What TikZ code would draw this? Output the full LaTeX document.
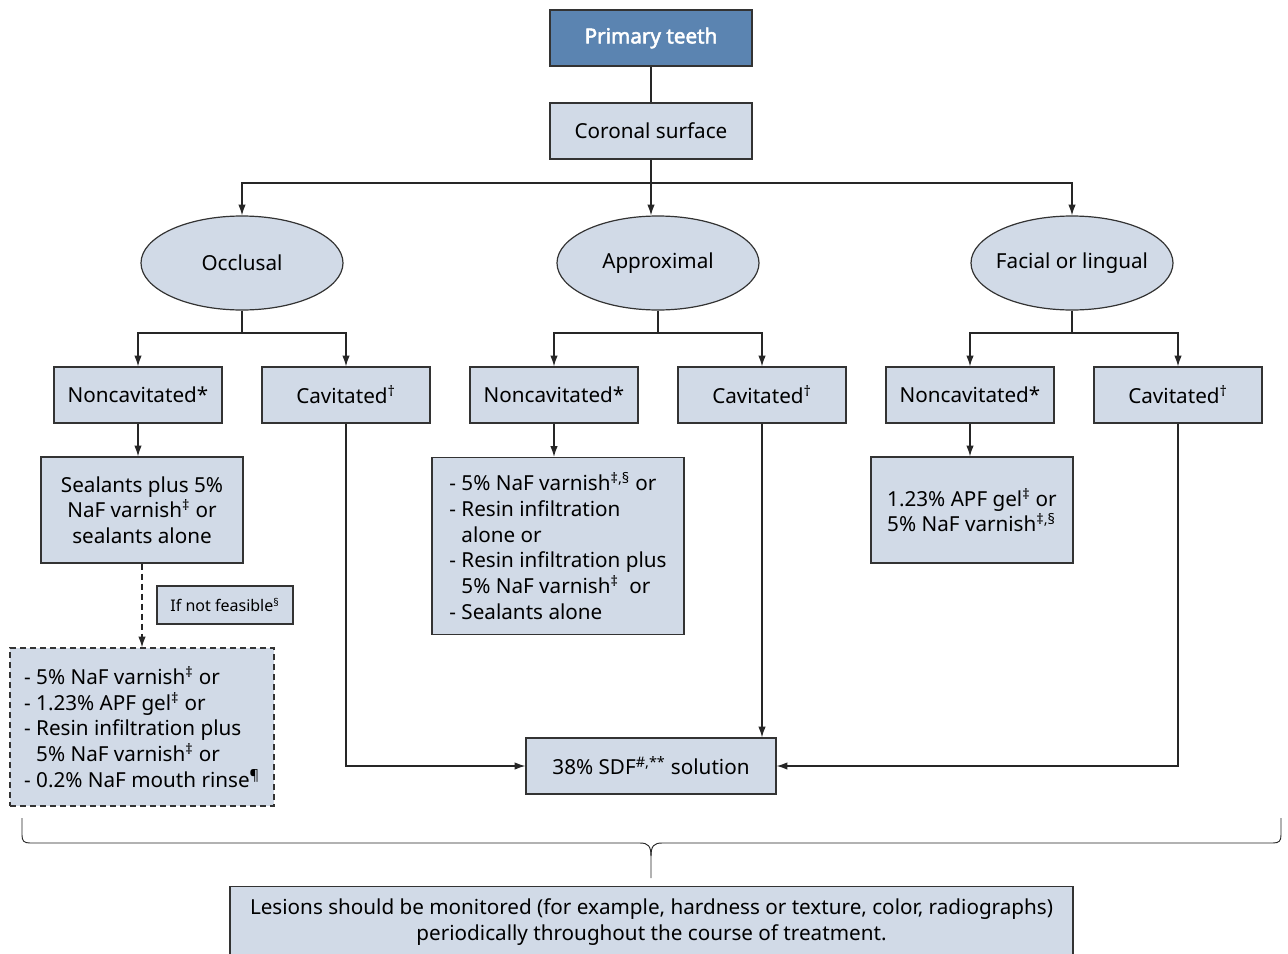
\documentclass[tikz,border=0pt]{standalone}
\usepackage{fontspec}
\setmainfont{Noto Sans}
\newfontfamily\titlefont{Noto Sans}[FakeBold=2.5]
\usetikzlibrary{shapes.geometric,arrows.meta}
\definecolor{darkfill}{HTML}{5B84B1}
\definecolor{lightfill}{HTML}{D1DAE7}
\definecolor{edge}{HTML}{333333}
\tikzset{
  box/.style={draw=edge,fill=lightfill,line width=0.9pt,inner sep=0pt,font=\fontsize{15.5}{19.3}\selectfont,align=center},
  oval/.style={draw=edge,fill=lightfill,line width=0.9pt,ellipse,inner xsep=-12pt,inner ysep=0pt,minimum width=151.5pt,minimum height=70.5pt,font=\fontsize{15.5}{19.3}\selectfont},
  conn/.style={line width=0.9pt,draw=black!85},
  arr/.style={conn,-{Latex[length=8pt,width=5.5pt]}},
  dsh/.style={dash pattern=on 4.5pt off 3pt},
}
\begin{document}
\begin{tikzpicture}[x=0.75pt,y=-0.75pt]
\useasboundingbox (0,0) rectangle (1288,953);
\clip (0,0) rectangle (1288,953);
% top
\node[box,fill=darkfill,text=white,font=\fontsize{15.5}{19.3}\titlefont,minimum width=151.5pt,minimum height=42pt] (prim) at (651,38) {Primary teeth};
\node[box,minimum width=151.5pt,minimum height=42pt] (cor) at (651,131) {Coronal surface};
\node[oval] (occ) at (242,263) {Occlusal};
\node[oval] (appr) at (658,263) {Approximal};
\node[oval] (fac) at (1072,263) {Facial or lingual};
\foreach \n/\x in {nca/138,ncb/554,ncc/970}{
  \node[box,minimum width=126pt,minimum height=42pt] (\n) at (\x,395) {Noncavitated*};}
\foreach \n/\x in {ca/346,cb/762,cc/1178}{
  \node[box,minimum width=126pt,minimum height=42pt] (\n) at (\x,395) {Cavitated\textsuperscript{†}};}
\node[box,minimum width=151.5pt,minimum height=79.5pt] (seal) at (142,510) {Sealants plus 5\%\\NaF varnish\textsuperscript{‡} or\\sealants alone};
\node[box,minimum width=102pt,minimum height=28.5pt,font=\fontsize{12}{14}\selectfont] (ifnot) at (225,605) {If not feasible\textsuperscript{§}};
\node[box,dsh,minimum width=198pt,minimum height=118.5pt,align=left] (alt) at (142,727) {- 5\% NaF varnish\textsuperscript{‡} or\\- 1.23\% APF gel\textsuperscript{‡} or\\- Resin infiltration plus\\\hphantom{- }5\% NaF varnish\textsuperscript{‡} or\\- 0.2\% NaF mouth rinse\textsuperscript{¶}};
\node[box,minimum width=189pt,minimum height=132.75pt,align=left] (mid) at (558,546) {- 5\% NaF varnish\textsuperscript{‡,§} or\\- Resin infiltration\\\hphantom{- }alone or\\- Resin infiltration plus\\\hphantom{- }5\% NaF varnish\textsuperscript{‡}\ \ or\\- Sealants alone};
\node[box,minimum width=151.5pt,minimum height=79.5pt,align=left] (rt) at (972,510) {1.23\% APF gel\textsuperscript{‡} or\\5\% NaF varnish\textsuperscript{‡,§}};
\node[box,minimum width=187.5pt,minimum height=42pt] (sdf) at (651,766) {38\% SDF\textsuperscript{\#,**} solution};
\node[box,minimum width=632.25pt,minimum height=60pt,anchor=north,font=\fontsize{15.5}{19}\selectfont,text depth=10.5pt] (mon) at (651.5,886) {Lesions should be monitored (for example, hardness or texture, color, radiographs)\\periodically throughout the course of treatment.};
% connectors
\draw[conn] (prim.south) -- (cor.north);
\coordinate (h) at (651,183);
\draw[arr] (cor.south) -- (cor.south |- appr.north);
\draw[arr] (h) -| (occ.north);
\draw[arr] (h) -| (fac.north);
\coordinate (o1) at (242,333);
\coordinate (o2) at (658,333);
\coordinate (o3) at (1072,333);
\draw[conn] (occ.south) -- (o1);
\draw[conn] (appr.south) -- (o2);
\draw[conn] (fac.south) -- (o3);
\draw[arr] (o1) -| (nca.north);
\draw[arr] (o1) -| (ca.north);
\draw[arr] (o2) -| (ncb.north);
\draw[arr] (o2) -| (cb.north);
\draw[arr] (o3) -| (ncc.north);
\draw[arr] (o3) -| (cc.north);
\draw[arr] (nca.south) -- (nca.south |- seal.north);
\draw[arr] (ncb.south) -- (ncb.south |- mid.north);
\draw[arr] (ncc.south) -- (ncc.south |- rt.north);
\draw[arr,dsh] (seal.south) -- (alt.north);
\draw[arr] (ca.south) |- (sdf.west);
\draw[arr] (cb.south) -- (cb.south |- sdf.north);
\draw[arr] (cc.south) |- (sdf.east);
% brace
\coordinate (bl) at (22,818);
\coordinate (br) at (1281,818);
\coordinate (bt) at (651,878);
\draw[conn,line width=0.7pt] (bl) -- (22,835) .. controls (22,841) and (24,843) .. (30,843) -- (640,843) .. controls (648,843) and (651,846) .. (651,856) -- (bt);
\draw[conn,line width=0.7pt] (br) -- (1281,835) .. controls (1281,841) and (1279,843) .. (1273,843) -- (662,843) .. controls (654,843) and (651,846) .. (651,856);
\end{tikzpicture}
\end{document}
